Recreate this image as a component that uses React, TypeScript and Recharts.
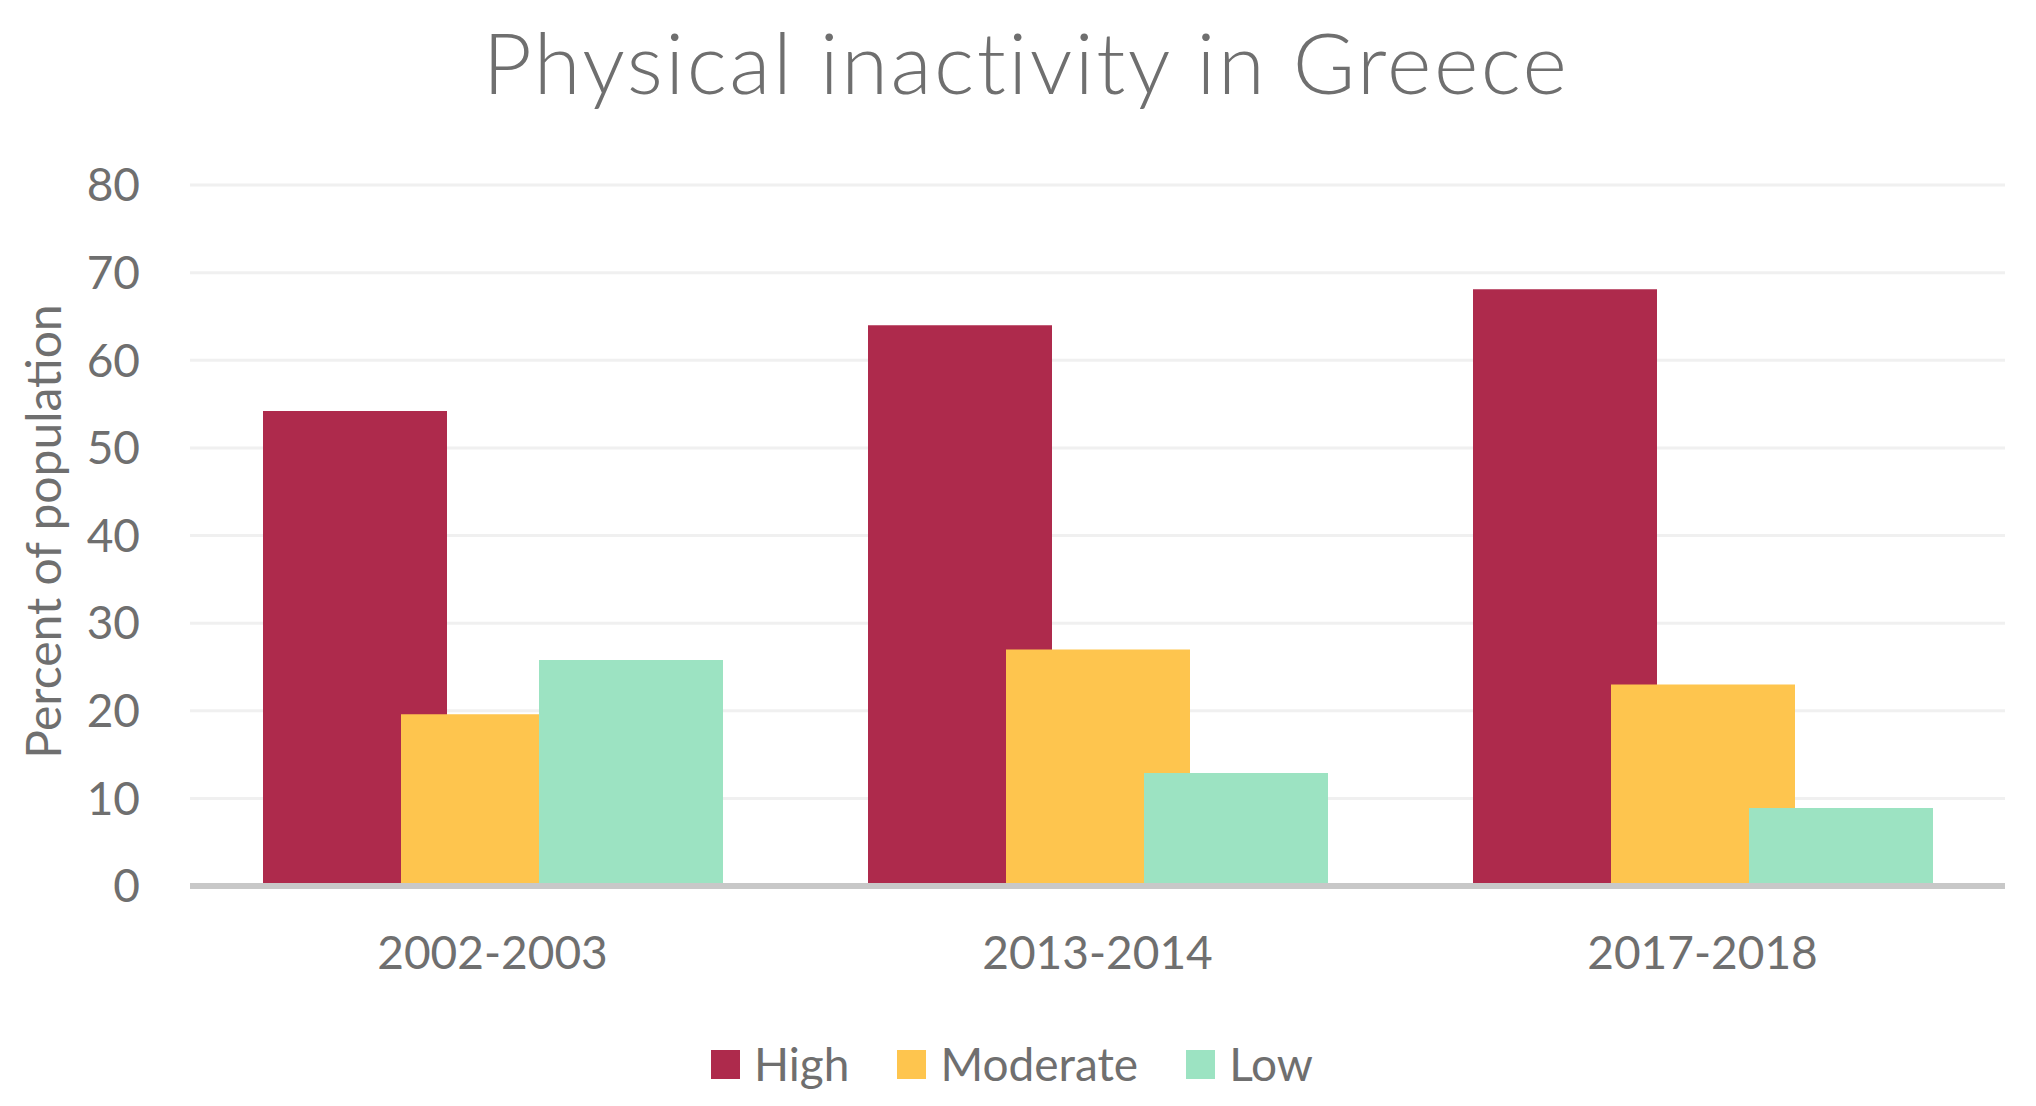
import React from "react"
import { BarChart, Bar, XAxis, YAxis, CartesianGrid } from "recharts"

// survey periods
const periods = ["2002-2003", "2013-2014", "2017-2018"]

// percent of population by inactivity level
const high = [54.2, 64, 68.1]
const moderate = [19.6, 27, 23]
const low = [25.8, 12.9, 8.9]

const yTicks = [0, 10, 20, 30, 40, 50, 60, 70, 80]

const series = [
  { key: "high", name: "High", color: "#AE2A4C" },
  { key: "moderate", name: "Moderate", color: "#FEC54E" },
  { key: "low", name: "Low", color: "#9CE3C2" },
]

const data = periods.map((period, i) => ({
  period,
  high: high[i],
  moderate: moderate[i],
  low: low[i],
}))

const FONT = "Lato, 'Open Sans', sans-serif"
const TEXT = "#6F6F6F"

export default function App() {
  React.useEffect(() => {
    document.body.style.margin = "0"
  }, [])

  return (
    <div style={{ position: "relative", width: 2036, height: 1106, background: "#fff", fontFamily: FONT }}>
      <div
        style={{
          position: "absolute",
          top: 6,
          left: 8,
          width: 2036,
          textAlign: "center",
          fontSize: 85,
          fontWeight: 300,
          color: TEXT,
          letterSpacing: 2.5,
          lineHeight: "110px",
        }}
      >
        Physical inactivity in Greece
      </div>

      <BarChart
        width={2036}
        height={1106}
        data={data}
        margin={{ top: 185, right: 31, left: 0, bottom: 0 }}
        barSize={184}
        barGap={-46}
      >
        <CartesianGrid vertical={false} stroke="#F0F0F0" strokeWidth={3} />
        <XAxis
          dataKey="period"
          height={220}
          axisLine={{ stroke: "#C8C8C8", strokeWidth: 6 }}
          tickLine={false}
          tickMargin={44}
          tick={{ fill: TEXT, fontSize: 46, fontFamily: FONT }}
        />
        <YAxis
          width={190}
          domain={[0, 80]}
          ticks={yTicks}
          axisLine={false}
          tickLine={false}
          tickMargin={44}
          tick={{ fill: TEXT, fontSize: 46, fontFamily: FONT }}
          label={{
            content: ({ viewBox }: any) => {
              const x = viewBox.x + 42
              const y = viewBox.y + viewBox.height / 2 - 4
              return (
                <text
                  x={x}
                  y={y}
                  transform={`rotate(-90 ${x} ${y})`}
                  textAnchor="middle"
                  dominantBaseline="central"
                  fill={TEXT}
                  fontSize={48}
                  fontFamily={FONT}
                >
                  Percent of population
                </text>
              )
            },
          }}
        />
        {series.map((s) => (
          <Bar key={s.key} dataKey={s.key} name={s.name} fill={s.color} isAnimationActive={false} />
        ))}
      </BarChart>

      <div
        style={{
          position: "absolute",
          top: 1034,
          left: -6,
          width: 2036,
          display: "flex",
          justifyContent: "center",
          gap: 48,
          color: TEXT,
          fontSize: 46,
          lineHeight: "60px",
        }}
      >
        {series.map((s) => (
          <div key={s.key} style={{ display: "flex", alignItems: "center", gap: 14 }}>
            <span style={{ display: "inline-block", width: 29, height: 29, background: s.color }} />
            <span>{s.name}</span>
          </div>
        ))}
      </div>
    </div>
  )
}
